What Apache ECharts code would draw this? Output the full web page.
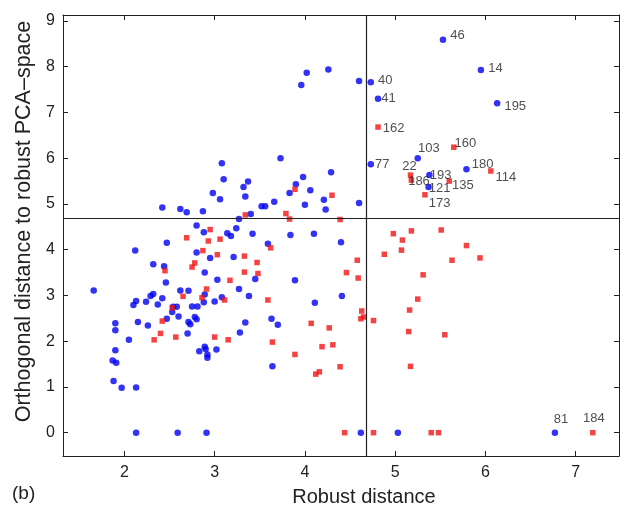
<!DOCTYPE html>
<html>
<head>
<meta charset="utf-8">
<script src="https://cdn.jsdelivr.net/npm/echarts@6/dist/echarts.min.js"></script>
<style>
  html, body { margin: 0; padding: 0; background: #fff; }
  #chart { width: 621px; height: 507px; }
</style>
</head>
<body>
<div id="chart"></div>
<script>
// cutoff used for both reference lines
const cutoff = 4.68;

// regular observations (blue dots): [robust distance, orthogonal distance, id]
const bluePoints = [
  [3.96, 7.60, ""], [4.02, 7.87, ""], [4.26, 7.94, ""], [4.60, 7.69, ""],
  [2.42, 4.92, ""], [2.62, 4.89, ""], [2.69, 4.82, ""], [2.87, 4.84, ""],
  [3.08, 5.89, ""], [3.10, 5.54, ""], [2.98, 5.24, ""], [3.06, 5.10, ""],
  [3.32, 5.37, ""], [3.37, 5.49, ""], [3.34, 5.16, ""], [3.40, 4.78, ""], [3.27, 4.67, ""],
  [3.52, 4.95, ""], [3.56, 4.95, ""], [3.66, 5.05, ""], [3.73, 6.00, ""], [3.83, 5.24, ""],
  [3.90, 5.43, ""], [3.98, 5.59, ""], [4.06, 5.30, ""], [4.00, 4.98, ""], [4.21, 5.09, ""],
  [4.23, 4.88, ""], [4.29, 5.69, ""], [4.60, 5.02, ""],
  [4.73, 7.66, "40"], [4.81, 7.30, "41"], [5.53, 8.59, "46"], [5.95, 7.93, "14"],
  [6.13, 7.20, "195"], [4.73, 5.87, "77"], [5.25, 6.00, "103"], [5.38, 5.63, "193"],
  [5.37, 5.37, "121"], [5.79, 5.76, "180"], [6.77, 0, "81"],
  [2.80, 4.53, ""], [2.88, 4.38, ""], [2.47, 4.15, ""], [3.14, 4.36, ""], [3.18, 4.30, ""],
  [3.24, 4.47, ""], [3.42, 4.35, ""], [3.59, 4.13, ""], [3.84, 4.32, ""],
  [2.12, 3.98, ""], [2.80, 3.94, ""], [2.95, 3.82, ""], [2.32, 3.68, ""], [2.44, 3.64, ""],
  [2.89, 3.50, ""], [3.21, 3.84, ""], [3.03, 3.34, ""], [3.45, 3.36, ""], [3.89, 3.33, ""],
  [2.46, 3.28, ""], [1.66, 3.11, ""], [2.62, 3.11, ""], [2.71, 3.10, ""], [3.27, 3.14, ""],
  [3.38, 2.99, ""], [2.89, 3.02, ""], [2.32, 3.03, ""], [2.29, 2.99, ""], [2.42, 2.94, ""],
  [2.13, 2.88, ""], [2.10, 2.79, ""], [2.24, 2.86, ""], [2.37, 2.80, ""], [2.88, 2.85, ""],
  [3.00, 2.87, ""], [3.08, 2.96, ""], [2.54, 2.75, ""], [2.58, 2.75, ""], [2.75, 2.76, ""],
  [2.81, 2.76, ""], [2.53, 2.64, ""], [2.60, 2.54, ""], [2.47, 2.49, ""], [2.78, 2.53, ""],
  [2.80, 2.48, ""], [2.71, 2.42, ""], [2.73, 2.37, ""], [1.90, 2.39, ""], [1.90, 2.24, ""],
  [2.15, 2.42, ""], [2.26, 2.34, ""], [2.70, 2.17, ""], [2.05, 2.03, ""], [1.90, 1.80, ""],
  [1.87, 1.58, ""], [1.91, 1.53, ""], [1.88, 1.13, ""], [1.97, 0.98, ""], [2.13, 0.99, ""],
  [2.83, 1.78, ""], [2.89, 1.88, ""], [2.90, 1.83, ""], [2.92, 1.71, ""], [2.92, 1.64, ""],
  [3.02, 1.82, ""], [3.28, 2.19, ""], [3.34, 2.41, ""], [3.63, 2.49, ""], [3.70, 2.36, ""],
  [3.64, 1.45, ""], [2.13, 0, ""], [2.59, 0, ""], [2.91, 0, ""],
  [4.10, 4.35, ""], [4.40, 4.16, ""], [4.11, 2.84, ""], [4.41, 2.99, ""], [4.62, 0, ""], [5.03, 0, ""]
];

// flagged observations (red squares)
const redPoints = [
  [3.89, 5.32, ""], [4.30, 5.19, ""], [3.34, 4.76, ""], [3.79, 4.79, ""], [3.83, 4.67, ""], [4.39, 4.66, ""],
  [2.69, 4.26, ""], [2.95, 4.44, ""], [2.93, 4.19, ""], [3.06, 4.23, ""], [2.87, 3.98, ""],
  [3.03, 3.89, ""], [2.78, 3.71, ""], [2.75, 3.62, ""], [2.45, 3.54, ""], [3.33, 3.86, ""],
  [3.47, 3.72, ""], [3.33, 3.51, ""], [3.48, 3.48, ""], [3.62, 4.04, ""], [3.17, 3.33, ""],
  [2.91, 3.14, ""], [2.65, 2.98, ""], [2.86, 2.95, ""], [3.11, 2.90, ""], [3.59, 2.90, ""],
  [2.53, 2.73, ""], [2.42, 2.44, ""], [2.40, 2.17, ""], [2.33, 2.03, ""], [2.57, 2.09, ""],
  [3.00, 2.09, ""], [3.15, 2.03, ""], [3.64, 1.98, ""], [3.89, 1.71, ""],
  [4.98, 4.35, ""], [5.18, 4.41, ""], [5.51, 4.43, ""], [5.08, 4.21, ""], [5.07, 3.99, ""],
  [4.88, 3.90, ""], [5.79, 4.09, ""], [5.63, 3.77, ""], [5.94, 3.82, ""], [4.58, 3.77, ""],
  [4.46, 3.50, ""], [4.59, 3.38, ""], [5.31, 3.45, ""], [5.25, 2.92, ""], [5.16, 2.68, ""],
  [4.63, 2.66, ""], [4.62, 2.49, ""], [4.65, 2.53, ""], [4.76, 2.45, ""], [4.07, 2.39, ""],
  [4.27, 2.29, ""], [5.15, 2.21, ""], [5.55, 2.14, ""], [4.19, 1.88, ""], [4.31, 1.92, ""],
  [4.39, 1.44, ""], [4.12, 1.28, ""], [4.16, 1.33, ""], [5.17, 1.45, ""],
  [4.44, 0, ""], [4.76, 0, ""], [5.40, 0, ""], [5.48, 0, ""],
  [4.81, 6.68, "162"], [5.65, 6.24, "160"], [5.17, 5.63, "22"], [5.18, 5.52, "186"],
  [5.60, 5.50, "135"], [6.06, 5.72, "114"], [5.33, 5.20, "173"], [7.19, 0, "184"]
];

const xTicks = [2, 3, 4, 5, 6, 7];
const yTicks = [0, 1, 2, 3, 4, 5, 6, 7, 8, 9];

// where each id label sits next to its point
const labelPlace = {
  "46": ["right", [0, -4]], "14": ["right", [0, -1]], "40": ["right", [0, -2]],
  "41": ["right", [-4, 0]], "195": ["right", [0, 3]], "162": ["right", [-2, 1]],
  "160": ["right", [-6, -4]], "103": ["right", [-7, -10]], "77": ["right", [-3, 0]],
  "186": ["right", [-10, 1]], "193": ["right", [-7, 0]], "121": ["right", [-7, 1]],
  "135": ["right", [-4, 4]], "180": ["right", [-2, -5]], "114": ["right", [-2, 6]],
  "173": ["right", [-3, 9]], "22": ["top", [-1, 5]], "81": ["top", [6, 1]], "184": ["top", [1, -1]]
};

const font = "'Liberation Sans', Arial, Helvetica, sans-serif";
const ink = "#222";

const toData = (pts) => pts.map((p) => {
  const item = { value: [p[0], p[1]] };
  if (p[2]) {
    const place = labelPlace[p[2]];
    item.label = {
      show: true, formatter: p[2], position: place[0], offset: place[1],
      distance: 4, fontSize: 13, color: ink, fontFamily: font
    };
  }
  return item;
});

const chart = echarts.init(document.getElementById("chart"));

const baseAxis = {
  type: "value",
  axisLine: { show: true, onZero: false, lineStyle: { color: ink, width: 1 } },
  axisTick: { show: true, inside: true, length: 5, lineStyle: { color: ink } },
  splitLine: { show: false },
};

const option = {
  animation: false,
  textStyle: { fontFamily: font },
  grid: { left: 63, right: 2, top: 15, bottom: 51, outerBoundsMode: "none", containLabel: false },
  xAxis: [
    Object.assign({}, baseAxis, {
      min: 1.32, max: 7.48, splitNumber: 6, position: "bottom",
      axisLabel: {
        fontSize: 16, color: ink, margin: 9, fontFamily: font,
        showMinLabel: false, showMaxLabel: false,
        formatter: (v) => (xTicks.includes(v) ? String(v) : "")
      },
      name: "Robust distance", nameLocation: "middle", nameGap: 31,
      nameTextStyle: { fontSize: 20, color: ink, fontFamily: font, padding: [0, 0, 0, 46] }
    }),
    Object.assign({}, baseAxis, {
      min: 1.32, max: 7.48, splitNumber: 6, position: "top",
      axisLabel: { show: false }
    })
  ],
  yAxis: [
    Object.assign({}, baseAxis, {
      min: -0.51, max: 9.13, splitNumber: 10, position: "left",
      axisLabel: {
        fontSize: 16, color: ink, margin: 8, fontFamily: font,
        showMinLabel: false, showMaxLabel: false,
        formatter: (v) => (yTicks.includes(v) ? String(v) : "")
      },
      name: "Orthogonal distance to robust PCA\u2013space", nameLocation: "middle", nameGap: 28,
      nameTextStyle: { fontSize: 21.5, color: ink, fontFamily: font, padding: [0, 0, 0, 28] }
    }),
    Object.assign({}, baseAxis, {
      min: -0.51, max: 9.13, splitNumber: 10, position: "right",
      axisLabel: { show: false }
    })
  ],
  graphic: [
    { type: "text", left: 12, top: 484, style: { text: "(b)", fontSize: 19, fill: ink, fontFamily: font } }
  ],
  series: [
    {
      name: "regular", type: "scatter", symbol: "circle", symbolSize: 6.5,
      itemStyle: { color: "#0000f0" },
      data: toData(bluePoints),
      markLine: {
        silent: true, symbol: "none", label: { show: false },
        lineStyle: { color: ink, type: "solid", width: 1.2 },
        data: [{ xAxis: cutoff }, { yAxis: cutoff }]
      }
    },
    {
      name: "flagged", type: "scatter", symbol: "rect", symbolSize: 5.5,
      itemStyle: { color: "#f01414" },
      data: toData(redPoints)
    }
  ]
};

chart.setOption(option);
window.addEventListener("resize", () => chart.resize());
</script>
</body>
</html>
